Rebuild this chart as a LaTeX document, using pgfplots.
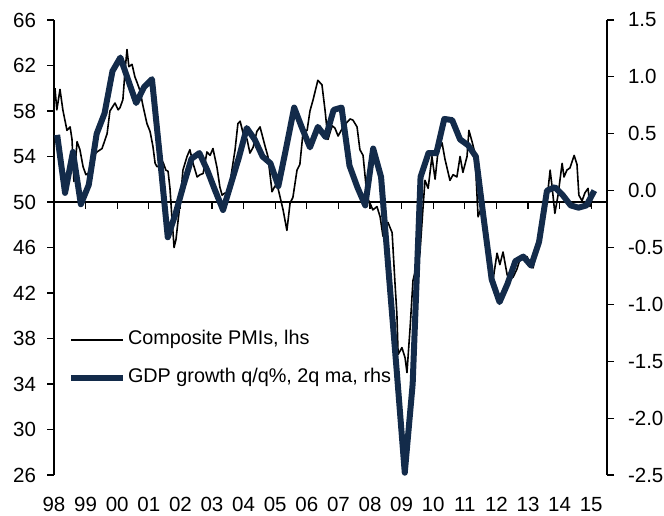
\documentclass[border=0pt]{standalone}
\usepackage{pgfplots}
\pgfplotsset{compat=1.18}
\usepackage{fontspec}
\setmainfont{Liberation Sans}
\definecolor{gdpblue}{HTML}{132B4A}
\pgfplotstableread{
x y
0.03 60.0
0.09 58.1
0.19 59.9
0.28 58.1
0.41 56.3
0.51 56.6
0.57 55.5
0.63 51.8
0.73 55.3
0.82 54.6
0.92 53.1
1.01 52.4
1.08 52.5
1.23 54.0
1.36 54.4
1.52 54.7
1.68 56.0
1.77 58.0
1.93 58.7
2.03 58.1
2.09 58.3
2.18 59.0
2.25 61.6
2.31 63.4
2.37 61.9
2.47 62.1
2.56 61.0
2.63 60.5
2.72 59.8
2.82 58.4
2.94 56.9
3.04 56.2
3.13 54.9
3.20 53.4
3.26 53.1
3.35 53.2
3.45 53.5
3.54 52.8
3.61 52.7
3.67 51.2
3.73 48.7
3.80 46.0
3.86 46.7
3.92 48.2
3.99 49.9
4.08 52.8
4.21 54.0
4.30 54.6
4.40 53.4
4.53 52.2
4.62 52.4
4.72 52.5
4.84 54.4
4.94 54.1
5.03 54.7
5.16 53.0
5.25 51.3
5.32 50.6
5.41 50.8
5.51 50.6
5.63 52.8
5.73 54.6
5.82 56.9
5.89 57.1
5.98 56.1
6.11 55.5
6.20 54.3
6.30 54.8
6.42 56.2
6.52 56.6
6.68 54.9
6.77 54.0
6.90 50.9
6.99 51.4
7.09 51.2
7.25 49.3
7.37 47.5
7.47 49.9
7.56 50.4
7.69 52.8
7.78 53.3
7.88 56.1
8.01 56.3
8.10 58.0
8.20 59.0
8.35 60.7
8.48 60.3
8.58 58.0
8.67 55.5
8.80 56.7
8.89 56.5
8.99 55.8
9.11 56.4
9.27 57.0
9.37 57.3
9.46 57.2
9.59 56.6
9.68 54.6
9.78 54.1
9.91 50.4
10.00 49.9
10.09 49.3
10.22 49.6
10.32 48.7
10.41 47.0
10.57 48.2
10.70 47.3
10.79 42.9
10.85 40.2
10.89 36.6
11.01 37.2
11.11 36.3
11.17 35.0
11.27 39.0
11.36 43.1
11.49 44.6
11.58 45.5
11.68 49.6
11.74 51.9
11.84 51.2
11.96 54.0
12.06 52.0
12.15 54.4
12.28 55.2
12.37 53.8
12.53 51.9
12.63 52.4
12.75 52.2
12.85 54.0
12.94 52.6
13.07 54.0
13.13 56.3
13.23 55.3
13.32 54.3
13.42 48.7
13.51 49.4
13.58 48.0
13.70 45.8
13.80 44.6
13.89 43.1
14.02 45.5
14.11 44.5
14.21 45.6
14.34 43.6
14.43 43.2
14.53 43.4
14.65 44.1
14.75 45.0
14.84 45.2
14.97 45.2
15.06 44.6
15.16 44.2
15.28 45.8
15.38 47.5
15.47 49.5
15.60 50.2
15.70 52.8
15.76 51.4
15.85 49.0
15.95 50.6
16.08 53.4
16.14 52.2
16.23 52.8
16.33 53.0
16.46 54.1
16.55 53.3
16.61 50.6
16.71 50.1
16.80 50.8
16.90 51.2
16.96 49.6
17.06 50.7
}\pmitable
\pgfplotstableread{
x y
0.10 0.49
0.35 -0.02
0.60 0.34
0.85 -0.12
1.10 0.05
1.35 0.50
1.60 0.68
1.85 1.05
2.10 1.17
2.35 0.97
2.60 0.77
2.85 0.91
3.10 0.98
3.35 0.30
3.60 -0.41
3.85 -0.20
4.10 0.05
4.35 0.28
4.60 0.33
4.85 0.18
5.10 0.00
5.35 -0.17
5.60 0.06
5.85 0.29
6.10 0.55
6.35 0.45
6.60 0.30
6.85 0.24
7.10 0.04
7.35 0.38
7.60 0.73
7.85 0.55
8.10 0.38
8.35 0.56
8.60 0.47
8.85 0.71
9.10 0.73
9.35 0.22
9.60 0.03
9.85 -0.13
10.10 0.37
10.35 0.12
10.60 -0.75
10.85 -1.60
11.10 -2.48
11.35 -1.70
11.60 0.12
11.85 0.33
12.10 0.33
12.35 0.63
12.60 0.62
12.85 0.45
13.10 0.40
13.35 0.30
13.60 -0.25
13.85 -0.78
14.10 -0.98
14.35 -0.82
14.60 -0.62
14.85 -0.58
15.10 -0.66
15.35 -0.45
15.60 0.00
15.85 0.03
16.10 -0.04
16.35 -0.13
16.60 -0.15
16.85 -0.13
17.10 0.00
}\gdptable
\begin{document}
\fontsize{20.5}{24}\selectfont
\begin{tikzpicture}
\path[use as bounding box] (0,0) rectangle (664pt,516pt);
\begin{axis}[
  at={(54pt,41pt)}, anchor=south west,
  scale only axis, width=553pt, height=455pt,
  xmin=0, xmax=17.5, ymin=26, ymax=66,
  axis x line*=bottom, axis y line*=left,
  x axis line style={draw=none},
  xtick={0,...,17},
  xticklabels={98,99,00,01,02,03,04,05,06,07,08,09,10,11,12,13,14,15},
  major x tick style={draw=none},
  ytick={26,30,34,38,42,46,50,54,58,62,66},
  yticklabels={26,30,34,38,42,46,50,54,58,62,66},
  tick align=outside, major tick length=7pt,
  y axis line style={line width=1.2pt},
  major y tick style={line width=1.2pt, black},
  tick label style={font=\fontsize{20.5}{24}\selectfont},
  xticklabel style={yshift=-8pt},
  yticklabel style={xshift=-4pt},
  clip=false,
]
\draw[line width=1.2pt] (axis cs:0,50) -- (axis cs:17.5,50);
\pgfplotsinvokeforeach{1,...,17}{\draw[line width=1.2pt] (axis cs:#1,50) -- ([yshift=-7pt]axis cs:#1,50);}
\addplot[black, line width=1.6pt, line join=round] table[x=x,y=y] {\pmitable};
\end{axis}
\begin{axis}[
  at={(54pt,41pt)}, anchor=south west,
  scale only axis, width=553pt, height=455pt,
  xmin=0, xmax=17.5, ymin=-2.5, ymax=1.5,
  axis x line=none, axis y line*=right,
  ytick={-2.5,-2,-1.5,-1,-0.5,0,0.5,1,1.5},
  yticklabels={-2.5,-2.0,-1.5,-1.0,-0.5,0.0,0.5,1.0,1.5},
  tick align=outside, major tick length=7pt,
  y axis line style={line width=1.2pt},
  major y tick style={line width=1.2pt, black},
  tick label style={font=\fontsize{20.5}{24}\selectfont},
  yticklabel style={xshift=7pt},
  legend cell align=left,
  legend image code/.code={\draw[#1] (0pt,0pt) -- (52pt,0pt);},
  legend style={draw=none, fill=none, at={(0.025,0.255)}, anchor=west,
    inner sep=0pt, row sep=18pt,
    nodes={inner xsep=2pt, inner ysep=0pt, text height=15pt, text depth=5pt},
    font=\fontsize{19.8}{24}\selectfont},
  clip=false,
]
\addlegendimage{black, line width=1.6pt}
\addlegendentry{Composite PMIs, lhs}
\addplot[gdpblue, line width=6pt, line join=round] table[x=x,y=y] {\gdptable};
\addlegendentry{GDP growth q/q\%, 2q ma, rhs}
\end{axis}
\end{tikzpicture}
\end{document}
